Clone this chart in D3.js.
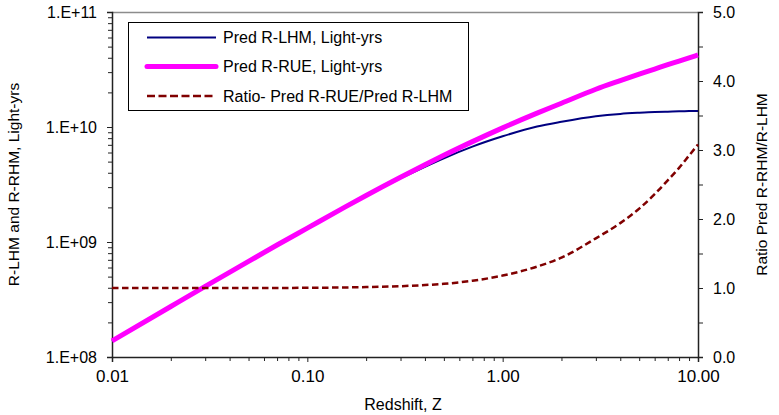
<!DOCTYPE html>
<html>
<head>
<meta charset="utf-8">
<script src="https://cdn.jsdelivr.net/npm/d3@7"></script>
<style>
  html, body { margin: 0; padding: 0; background: #fff; }
  svg { display: block; font-family: "Liberation Sans", Arial, sans-serif; }
</style>
</head>
<body>
<svg id="chart" width="779" height="415"></svg>
<script>
// ---- data ----
const redshift = [0.01, 0.02, 0.03, 0.05, 0.07, 0.1, 0.15, 0.2, 0.3, 0.4, 0.5, 0.7, 1, 1.5, 2, 3, 4, 5, 6, 7, 8, 9, 10];
const predRLHM = [1.38e8, 2.75e8, 4.11e8, 6.78e8, 9.39e8, 1.32e9, 1.93e9, 2.51e9, 3.57e9, 4.51e9, 5.35e9, 6.75e9, 8.3e9,
                  1.01e10, 1.11e10, 1.24e10, 1.3e10, 1.33e10, 1.35e10, 1.36e10, 1.37e10, 1.375e10, 1.38e10];
const predRRUE = [1.38e8, 2.75e8, 4.11e8, 6.78e8, 9.41e8, 1.32e9, 1.94e9, 2.54e9, 3.66e9, 4.7e9, 5.67e9, 7.46e9, 9.83e9,
                  1.32e10, 1.61e10, 2.13e10, 2.53e10, 2.88e10, 3.19e10, 3.48e10, 3.74e10, 3.99e10, 4.23e10];
const ratioRUEtoLHM = [1.0, 1.0, 1.0, 1.0, 1.0, 1.003, 1.007, 1.013, 1.026, 1.043, 1.06, 1.105, 1.18,
                       1.31, 1.44, 1.72, 1.94, 2.15, 2.36, 2.56, 2.74, 2.92, 3.08];
const xTickValues = [0.01, 0.1, 1, 10];
const xTickLabels = ["0.01", "0.10", "1.00", "10.00"];
const yLeftTickValues = [1e8, 1e9, 1e10, 1e11];
const yLeftTickLabels = ["1.E+08", "1.E+09", "1.E+10", "1.E+11"];
const yRightTickValues = [0, 1, 2, 3, 4, 5];
const yRightTickLabels = ["0.0", "1.0", "2.0", "3.0", "4.0", "5.0"];
const seriesNames = ["Pred R-LHM, Light-yrs", "Pred R-RUE, Light-yrs", "Ratio- Pred R-RUE/Pred R-LHM"];

// ---- layout ----
const L = 112, R = 698, T = 12, B = 357;
const svg = d3.select("#chart");

const x = d3.scaleLog().domain([0.01, 10]).range([L, R]);
const yL = d3.scaleLog().domain([1e8, 1e11]).range([B, T]);
const yR = d3.scaleLinear().domain([0, 5]).range([B, T]);

const fs = 15.5;

// top border (gray)
svg.append("line").attr("x1", L).attr("x2", R).attr("y1", T + 0.5).attr("y2", T + 0.5)
  .attr("stroke", "#8c8c8c").attr("stroke-width", 1.5);

// minor tick values
const xMinor = [];
[0.01, 0.1, 1].forEach(d => { for (let k = 2; k <= 9; k++) xMinor.push(d * k); });
const yLMinor = [];
[1e8, 1e9, 1e10].forEach(d => { for (let k = 2; k <= 9; k++) yLMinor.push(d * k); });
const yRMinor = [0.5, 1.5, 2.5, 3.5, 4.5];

// X axis
svg.append("g").attr("class", "xaxis").attr("transform", `translate(0,${B})`)
  .call(d3.axisBottom(x).tickValues(xTickValues).tickFormat((d, i) => xTickLabels[i]).tickSize(5).tickPadding(8));
svg.append("g").attr("transform", `translate(0,${B})`)
  .call(d3.axisBottom(x).tickValues(xMinor).tickFormat("").tickSize(4))
  .select(".domain").remove();

// Left axis
svg.append("g").attr("class", "yaxis").attr("transform", `translate(${L},0)`)
  .call(d3.axisLeft(yL).tickValues(yLeftTickValues).tickFormat((d, i) => yLeftTickLabels[i]).tickSize(5).tickPadding(10));
svg.append("g").attr("transform", `translate(${L},0)`)
  .call(d3.axisLeft(yL).tickValues(yLMinor).tickFormat("").tickSize(4))
  .select(".domain").remove();

// Right axis
svg.append("g").attr("class", "yaxis").attr("transform", `translate(${R},0)`)
  .call(d3.axisRight(yR).tickValues(yRightTickValues).tickFormat((d, i) => yRightTickLabels[i]).tickSize(5).tickPadding(10));
svg.append("g").attr("transform", `translate(${R},0)`)
  .call(d3.axisRight(yR).tickValues(yRMinor).tickFormat("").tickSize(5))
  .select(".domain").remove();

svg.selectAll(".domain").attr("stroke", "#222").attr("stroke-width", 1.5);
svg.selectAll(".tick line").attr("stroke", "#222");
svg.selectAll(".tick text").attr("fill", "#000")
  .attr("font-family", '"Liberation Sans", Arial, sans-serif');
svg.selectAll(".yaxis .tick text").attr("font-size", 16);
svg.selectAll(".xaxis .tick text").attr("font-size", 17);

// axis titles
svg.append("text").attr("x", (L + R) / 2 - 2).attr("y", 410).attr("text-anchor", "middle")
  .attr("font-size", 16).text("Redshift, Z");
svg.append("text").attr("transform", `translate(19,${(T + B) / 2}) rotate(-90)`).attr("text-anchor", "middle")
  .attr("font-size", fs).text("R-LHM and R-RHM, Light-yrs");
svg.append("text").attr("transform", `translate(767,${(T + B) / 2}) rotate(-90)`).attr("text-anchor", "middle")
  .attr("font-size", fs).text("Ratio Pred R-RHM/R-LHM");

// lines
const idx = d3.range(redshift.length);
const lineL = d3.line().x(i => x(redshift[i])).y(i => yL(predRLHM[i])).curve(d3.curveMonotoneX);
const lineU = d3.line().x(i => x(redshift[i])).y(i => yL(predRRUE[i])).curve(d3.curveMonotoneX);
const lineR = d3.line().x(i => x(redshift[i])).y(i => yR(ratioRUEtoLHM[i])).curve(d3.curveMonotoneX);

svg.append("path").datum(idx).attr("d", lineL).attr("fill", "none")
  .attr("stroke", "#000080").attr("stroke-width", 2);
svg.append("path").datum(idx).attr("d", lineU).attr("fill", "none")
  .attr("stroke", "#ff00ff").attr("stroke-width", 5);
svg.append("path").datum(idx).attr("d", lineR).attr("fill", "none")
  .attr("stroke", "#800000").attr("stroke-width", 2.5).attr("stroke-dasharray", "6.5,3.5");

// legend
const lg = svg.append("g");
lg.append("rect").attr("x", 128.5).attr("y", 22.5).attr("width", 340).attr("height", 88)
  .attr("fill", "#fff").attr("stroke", "#000").attr("stroke-width", 1);
const legendStyles = [
  { color: "#000080", w: 2, dash: null },
  { color: "#ff00ff", w: 5, dash: null },
  { color: "#800000", w: 2.5, dash: "8,3.5" }
];
const rowY = [37.5, 66.5, 96];
seriesNames.forEach((name, i) => {
  const s = legendStyles[i];
  const ln = lg.append("line").attr("x1", 147).attr("x2", 216).attr("y1", rowY[i]).attr("y2", rowY[i])
    .attr("stroke", s.color).attr("stroke-width", s.w).attr("stroke-linecap", i === 1 ? "round" : "butt");
  if (s.dash) ln.attr("stroke-dasharray", s.dash);
  lg.append("text").attr("x", 223).attr("y", rowY[i] + 5.5).attr("font-size", fs + 0.5).text(name);
});
</script>
</body>
</html>
